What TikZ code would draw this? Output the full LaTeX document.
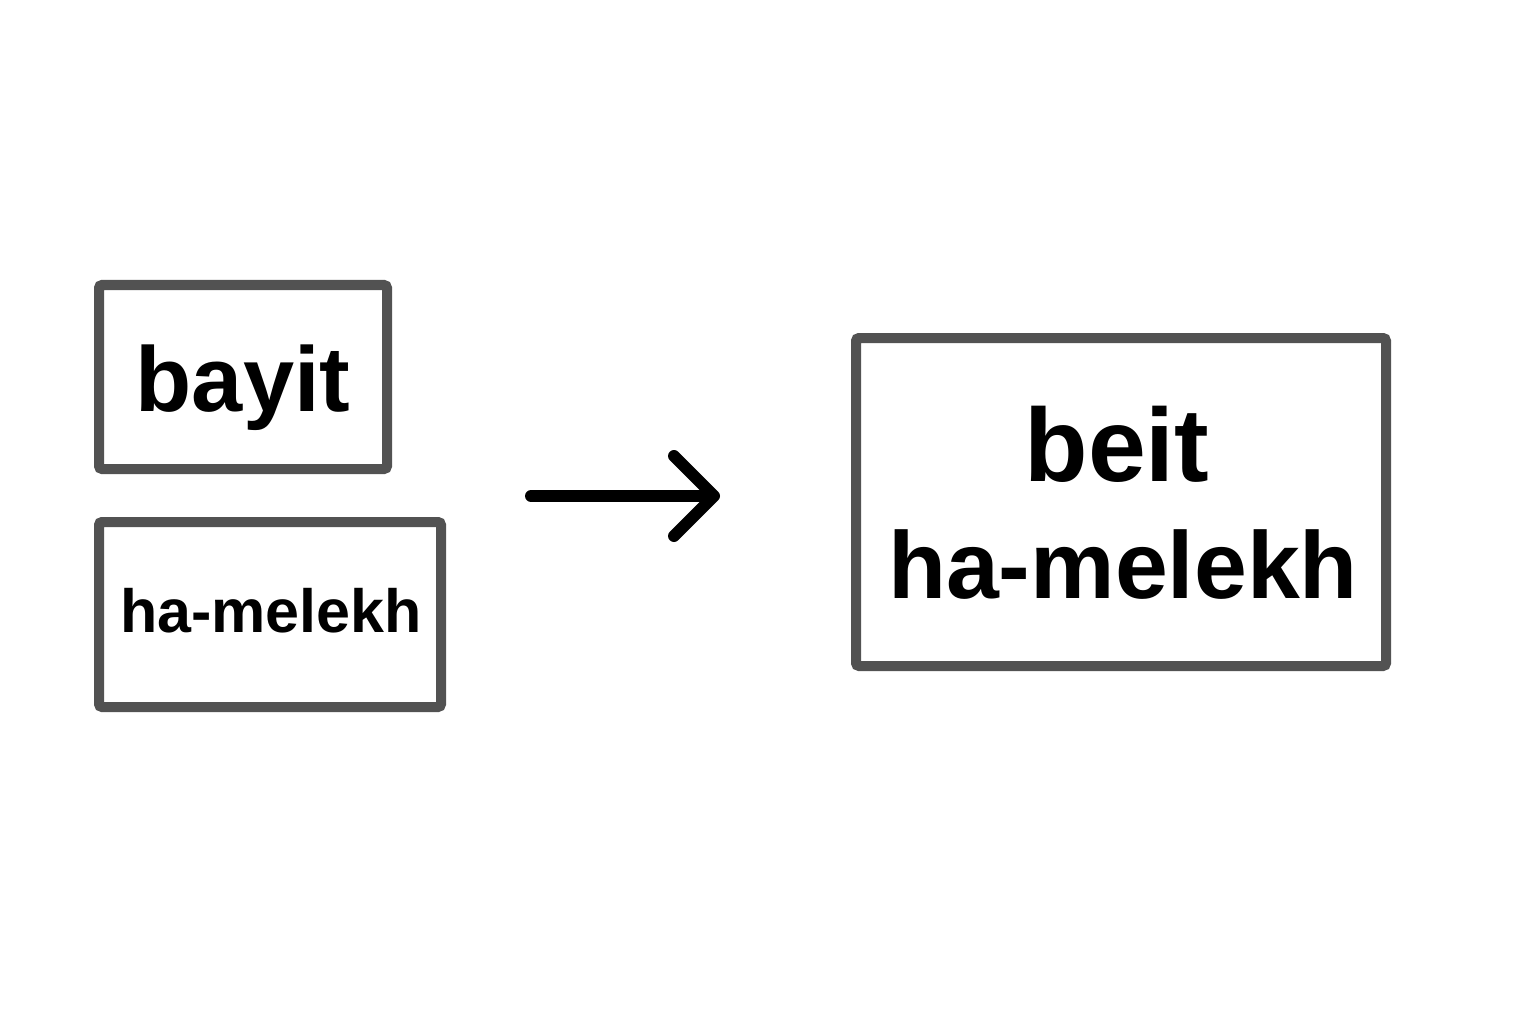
\documentclass[tikz,border=0pt]{standalone}
\usepackage{fontspec}
\setmainfont{Liberation Sans}
\usetikzlibrary{arrows.meta}
\definecolor{boxgray}{HTML}{525252}
\tikzset{
  wordbox/.style={draw=boxgray, line width=10pt, rounded corners=3pt},
  wordtext/.style={inner sep=0pt, anchor=base, font=\bfseries},
  conn/.style={line width=12pt, line cap=round, black,
    -{Straight Barb[length=40pt,width=80pt,line width=12pt,round]}}
}
\begin{document}
\begin{tikzpicture}[x=1pt,y=-1pt]
  \useasboundingbox (0,0) rectangle (1536,1024);
  % boxes
  \draw[wordbox] (99,285) rectangle (387,469);
  \draw[wordbox] (99,522) rectangle (441,707);
  \draw[wordbox] (856,338) rectangle (1386,666);
  % texts
  \node[wordtext, font=\bfseries\fontsize{92}{100}\selectfont] (bayit) at (243,411) {bayit};
  \node[wordtext, font=\bfseries\fontsize{61}{70}\selectfont] (hamel) at (271,632) {ha-melekh};
  \node[wordtext, font=\bfseries\fontsize{104}{117}\selectfont] (beit) at (1117,481) {beit};
  \node[wordtext, font=\bfseries\fontsize{95}{117}\selectfont] (hamelb) at (1123,598) {ha-melekh};
  % arrow
  \coordinate (arrS) at (531,496);
  \coordinate (arrE) at (720,496);
  \draw[conn] (arrS) -- (arrE);
\end{tikzpicture}
\end{document}
